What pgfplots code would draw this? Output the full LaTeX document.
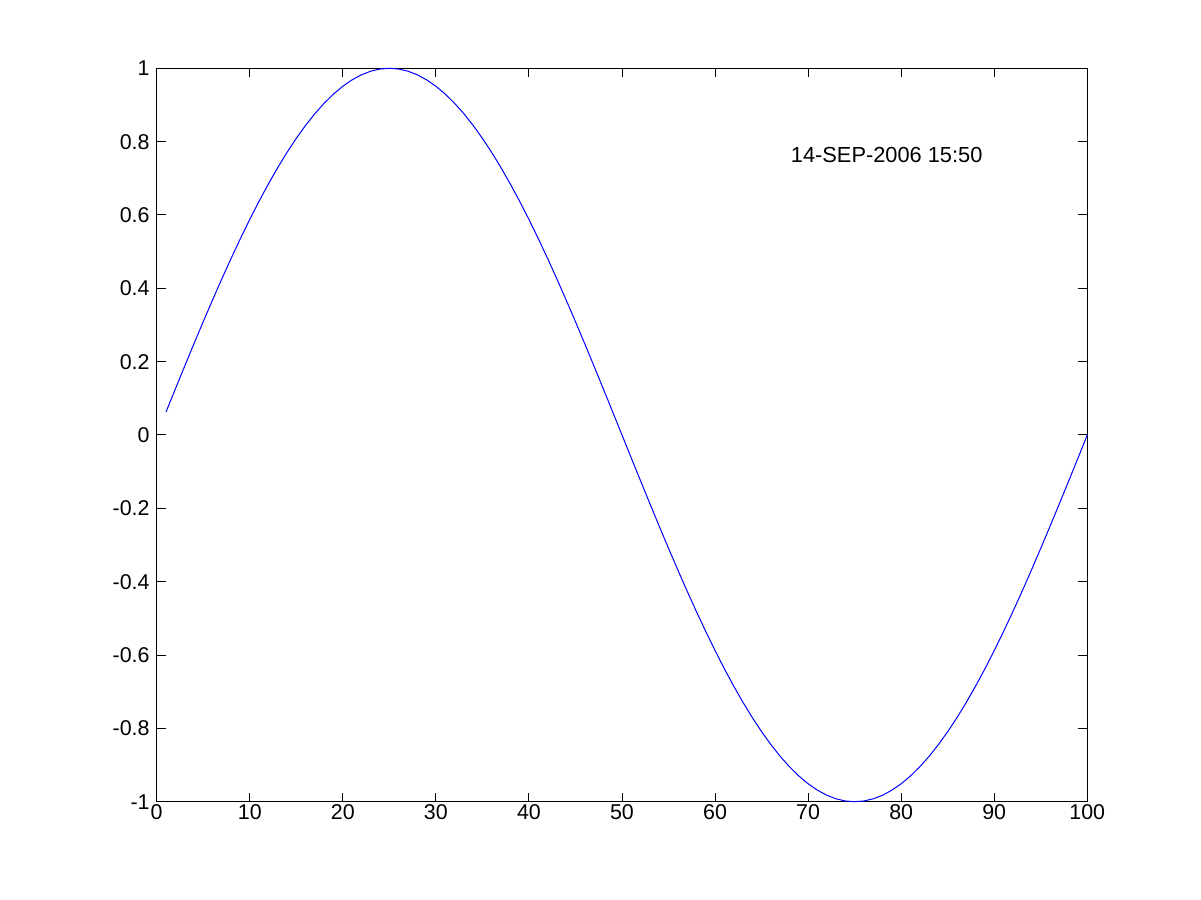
\documentclass[border=0pt]{standalone}
\usepackage{fontspec}
\setmainfont{Liberation Sans}
\usepackage{pgfplots}
\pgfplotsset{compat=1.18}
\begin{document}
\begin{tikzpicture}[x=0.5pt,y=0.5pt]
\path[use as bounding box] (-156.7,-98.3) rectangle (1044.3,801.7);
\begin{axis}[
  at={(0,0)}, anchor=south west,
  scale only axis,
  width=465.3pt, height=366.7pt,
  xmin=0, xmax=100, ymin=-1, ymax=1,
  xtick={0,10,...,100},
  ytick={-1,-0.8,...,1.01},
  yticklabels={-1,-0.8,-0.6,-0.4,-0.2,0,0.2,0.4,0.6,0.8,1},
  xticklabels={0,10,20,30,40,50,60,70,80,90,100},
  tick align=inside,
  major tick length=4.5pt,
  tick style={black, line width=0.5pt},
  axis line style={black, line width=0.5pt},
  every axis/.append style={line width=0.5pt},
  tick label style={font=\fontsize{10.7pt}{12pt}\selectfont, inner sep=0pt},
  xticklabel style={anchor=north, yshift=-1pt},
  yticklabel style={anchor=east, xshift=-3.3pt},
  clip=false,
]
\addplot[blue, line width=0.5pt, mark=none] coordinates {
(1,0.06279)(2,0.12533)(3,0.18738)(4,0.24869)(5,0.30902)(6,0.36812)(7,0.42578)(8,0.48175)(9,0.53583)(10,0.58779)
(11,0.63742)(12,0.68455)(13,0.72897)(14,0.77051)(15,0.80902)(16,0.84433)(17,0.87631)(18,0.90483)(19,0.92978)(20,0.95106)
(21,0.96858)(22,0.98229)(23,0.99211)(24,0.99803)(25,1.00000)(26,0.99803)(27,0.99211)(28,0.98229)(29,0.96858)(30,0.95106)
(31,0.92978)(32,0.90483)(33,0.87631)(34,0.84433)(35,0.80902)(36,0.77051)(37,0.72897)(38,0.68455)(39,0.63742)(40,0.58779)
(41,0.53583)(42,0.48175)(43,0.42578)(44,0.36812)(45,0.30902)(46,0.24869)(47,0.18738)(48,0.12533)(49,0.06279)(50,0.00000)
(51,-0.06279)(52,-0.12533)(53,-0.18738)(54,-0.24869)(55,-0.30902)(56,-0.36812)(57,-0.42578)(58,-0.48175)(59,-0.53583)(60,-0.58779)
(61,-0.63742)(62,-0.68455)(63,-0.72897)(64,-0.77051)(65,-0.80902)(66,-0.84433)(67,-0.87631)(68,-0.90483)(69,-0.92978)(70,-0.95106)
(71,-0.96858)(72,-0.98229)(73,-0.99211)(74,-0.99803)(75,-1.00000)(76,-0.99803)(77,-0.99211)(78,-0.98229)(79,-0.96858)(80,-0.95106)
(81,-0.92978)(82,-0.90483)(83,-0.87631)(84,-0.84433)(85,-0.80902)(86,-0.77051)(87,-0.72897)(88,-0.68455)(89,-0.63742)(90,-0.58779)
(91,-0.53583)(92,-0.48175)(93,-0.42578)(94,-0.36812)(95,-0.30902)(96,-0.24869)(97,-0.18738)(98,-0.12533)(99,-0.06279)(100,0.00000)
};
\node[anchor=west, inner sep=0pt, font=\fontsize{10.9pt}{12pt}\selectfont] at (axis cs:68.1,0.763) {14-SEP-2006 15:50};
\end{axis}
\end{tikzpicture}
\end{document}
